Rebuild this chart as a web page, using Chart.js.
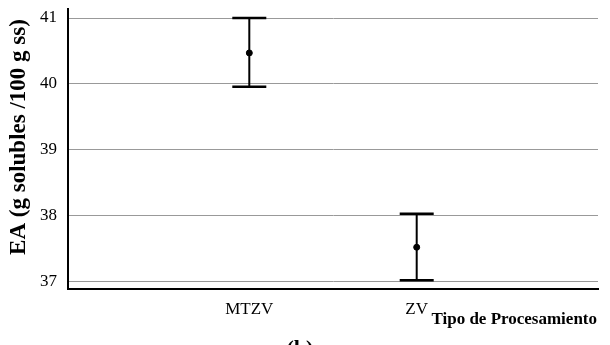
<!DOCTYPE html>
<html>
<head>
<meta charset="utf-8">
<script src="https://cdn.jsdelivr.net/npm/chart.js@4.4.1/dist/chart.umd.min.js"></script>
<style>
  html, body { margin: 0; padding: 0; background: #fff; }
  #wrap { width: 610px; height: 345px; position: relative; }
</style>
</head>
<body>
<div id="wrap"><canvas id="c" width="610" height="345"></canvas></div>
<script>
const categories = ['MTZV', 'ZV'];
const means = [40.47, 37.52];
const upper = [41.00, 38.03];
const lower = [39.955, 37.02];
const yTicks = [37, 38, 39, 40, 41];
const yTitle = 'EA (g solubles /100 g ss)';
const xTitle = 'Tipo de Procesamiento';
const panelLabel = '(b)';

const FONT = "'Liberation Serif', 'Times New Roman', serif";

const errorBarPlugin = {
  id: 'errorBars',
  afterDatasetsDraw(chart) {
    const ctx = chart.ctx;
    const xs = chart.scales.x, ys = chart.scales.y;
    ctx.save();
    ctx.strokeStyle = '#000';
    categories.forEach((c, i) => {
      const x = xs.getPixelForValue(i + 1);
      const yt = ys.getPixelForValue(upper[i]);
      const yb = ys.getPixelForValue(lower[i]);
      ctx.lineWidth = 2;
      ctx.beginPath();
      ctx.moveTo(x, yt); ctx.lineTo(x, yb);
      ctx.stroke();
      ctx.lineWidth = 2.5;
      ctx.beginPath();
      ctx.moveTo(x - 17, yt); ctx.lineTo(x + 17, yt);
      ctx.moveTo(x - 17, yb); ctx.lineTo(x + 17, yb);
      ctx.stroke();
    });
    ctx.restore();
  }
};

const textPlugin = {
  id: 'texts',
  afterDraw(chart) {
    const ctx = chart.ctx;
    ctx.save();
    ctx.fillStyle = '#000';
    ctx.font = "bold 23px " + FONT;
    ctx.translate(19, 137);
    ctx.rotate(-Math.PI / 2);
    ctx.textAlign = 'center';
    ctx.textBaseline = 'middle';
    ctx.fillText(yTitle, 0, 0);
    ctx.restore();
    ctx.save();
    ctx.fillStyle = '#000';
    ctx.font = "bold 17px " + FONT;
    ctx.textAlign = 'right';
    ctx.textBaseline = 'alphabetic';
    ctx.fillText(xTitle, 597, 324);
    ctx.font = "bold 22px " + FONT;
    ctx.textAlign = 'center';
    ctx.textBaseline = 'top';
    ctx.fillText(panelLabel, 300, 338);
    ctx.restore();
  }
};

new Chart(document.getElementById('c'), {
  type: 'scatter',
  data: {
    datasets: [{
      data: categories.map((c, i) => ({ x: i + 1, y: means[i] })),
      backgroundColor: '#000',
      borderColor: '#000',
      pointRadius: 3,
      pointHoverRadius: 3
    }]
  },
  options: {
    responsive: false,
    animation: false,
    devicePixelRatio: 1,
    layout: { padding: { left: 0, right: 12, top: 9, bottom: 0 } },
    plugins: { legend: { display: false }, tooltip: { enabled: false } },
    scales: {
      x: {
        type: 'linear',
        min: 1.5 - 1.583,
        max: 1.5 + 1.583,
        afterBuildTicks(scale) { scale.ticks = [{ value: 1 }, { value: 2 }]; },
        afterFit(scale) { scale.height = 56; scale.paddingLeft = 0; scale.paddingRight = 0; },
        grid: { display: false, drawTicks: false },
        border: { display: true, color: '#000', width: 2 },
        ticks: {
          color: '#000',
          font: { family: FONT, size: 17 },
          padding: 10,
          maxRotation: 0,
          autoSkip: false,
          callback(v) { return categories[v - 1]; }
        }
      },
      y: {
        min: 36.886,
        max: 41.137,
        afterBuildTicks(scale) { scale.ticks = yTicks.map(v => ({ value: v })); },
        afterFit(scale) { scale.width = 68; scale.paddingTop = 0; scale.paddingBottom = 0; },
        grid: { color: '#999', lineWidth: 1, drawTicks: false },
        border: { display: true, color: '#000', width: 2 },
        ticks: {
          color: '#000',
          font: { family: FONT, size: 17 },
          padding: 11
        }
      }
    }
  },
  plugins: [errorBarPlugin, textPlugin]
});
</script>
</body>
</html>
